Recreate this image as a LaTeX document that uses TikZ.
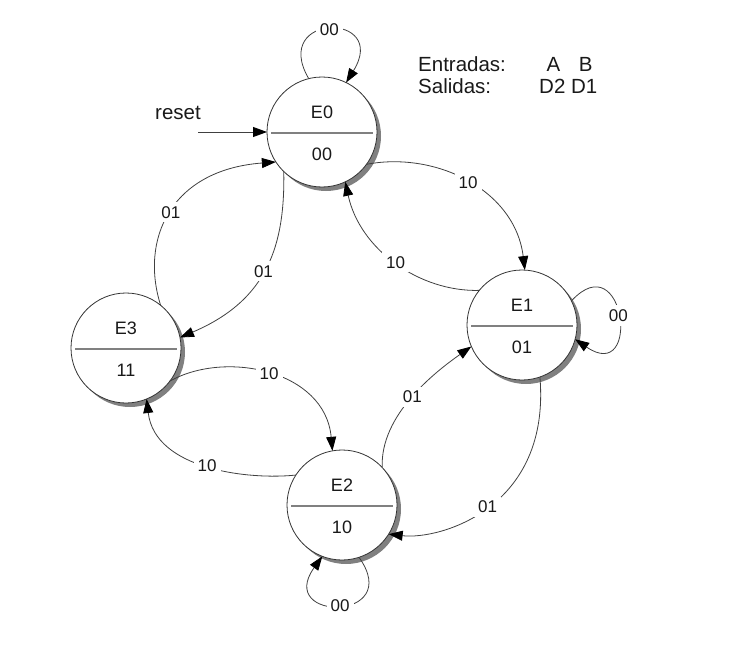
\documentclass[tikz,border=0pt]{standalone}
\usepackage{fontspec}
\setmainfont{Liberation Sans}
\usetikzlibrary{arrows.meta,calc,shadows}
\begin{document}
\begin{tikzpicture}[x=1pt,y=-1pt,
  state/.style={circle,draw=black!80,line width=0.8pt,fill=white,minimum size=110pt,inner sep=0pt,outer sep=0pt,
     drop shadow={shadow xshift=4pt,shadow yshift=-4pt,fill=black!50,opacity=1}},
  divider/.style={draw=black!50,line width=2pt},
  stxt/.style={font=\fontsize{18}{21}\selectfont,text=black!90,inner sep=0pt},
  edge/.style={draw=black!75,line width=0.8pt,-{Triangle[length=14pt,width=10pt,color=black]}},
  lbl/.style={fill=white,font=\fontsize{17}{20}\selectfont,text=black!90,inner sep=4pt},
  legend/.style={font=\fontsize{20.5}{24}\selectfont,text=black!90,inner sep=0pt,anchor=base west}]
\useasboundingbox (0,0) rectangle (731,661);

\foreach \n/\x/\y/\o in {E0/322/132/00,E1/522/325/01,E3/126/348/11,E2/342/505/10}{
  \node[state] (\n) at (\x,\y) {};
  \draw[divider] ($(\n)+(-51,0.5)$) -- ($(\n)+(51,0.5)$);
  \node[stxt] (\n top) at ($(\n)+(0,-20)$) {\n};
  \node[stxt] (\n bot) at ($(\n)+(0,22.5)$) {\o};
}

% transitions
\draw[edge] (E0.-36) .. controls (436,151) and (515,190) .. (E1.87) node[lbl,pos=0.5]{10};
\draw[edge] (E1.141) .. controls (420,292) and (360,250) .. (E0.-65) node[lbl,pos=0.5]{10};
\draw[edge] (E0.-134) .. controls (285,245) and (268,300) .. (E3.11) node[lbl,pos=0.52]{01};
\draw[edge] (E3.51) .. controls (140,240) and (170,170) .. (E0.-147) node[lbl,pos=0.5]{01};
\draw[edge] (E3.-37) .. controls (225,350) and (325,370) .. (E2.100) node[lbl,pos=0.5]{10};
\draw[edge] (E2.147) .. controls (250,480) and (155,470) .. (E3.-68) node[lbl,pos=0.5]{10};
\draw[edge] (E2.43) .. controls (380,415) and (435,372) .. (E1.-157) node[lbl,pos=0.5]{01};
\draw[edge] (E1.-71) .. controls (551,508) and (440,540) .. (E2.-32) node[lbl,pos=0.5]{01};

% self loops
\draw[edge] (E0.104) .. controls (270,12) and (390,12) .. (E0.64) node[lbl,pos=0.5]{00};
\draw[edge] (E1.26) .. controls (625,243) and (642,385) .. (E1.-15) node[lbl,pos=0.5]{00};
\draw[edge] (E2.-72) .. controls (405,622) and (275,622) .. (E2.-111) node[lbl,pos=0.5]{00};

% reset
\coordinate (rs) at (198,132);
\draw[edge] (rs) -- (E0.180);
\node[legend] (rlab) at (155,119) {reset};

% legend
\node[legend] (ent) at (418,72) {Entradas:};
\node[legend] (lab) at (546.3,72) {A\hspace{18.7pt}B};
\node[legend] (sal) at (418,93) {Salidas:};
\node[legend] (ld) at (539,93) {D2 D1};
\end{tikzpicture}
\end{document}
